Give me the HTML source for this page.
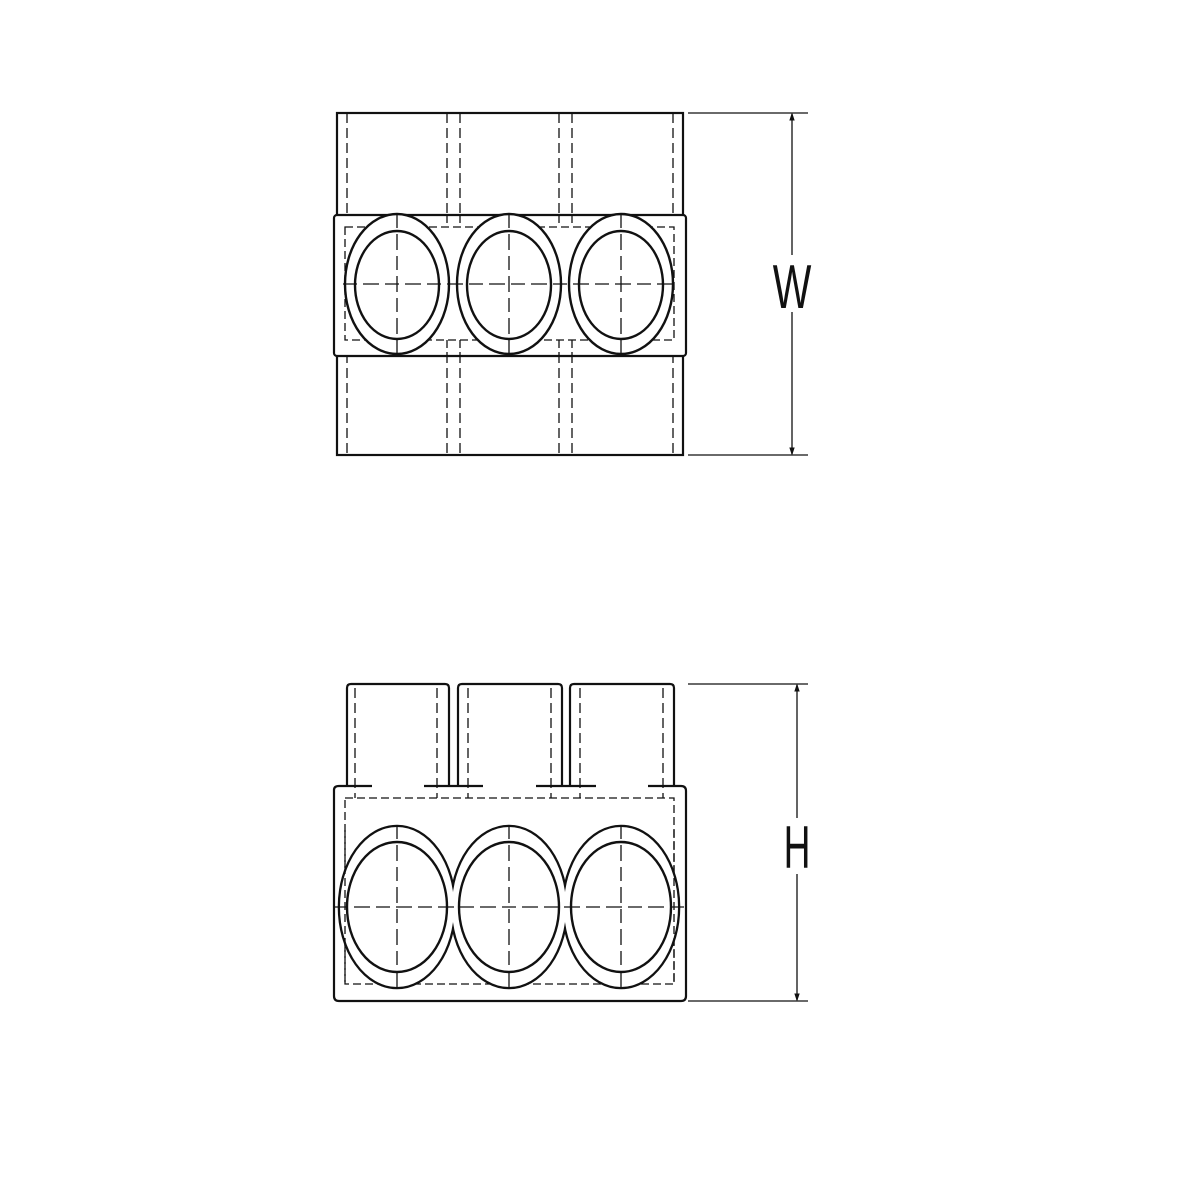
<!DOCTYPE html>
<html><head><meta charset="utf-8"><style>html,body{margin:0;padding:0;background:#fff}svg{display:block}</style></head>
<body>
<svg width="1200" height="1200" viewBox="0 0 1200 1200" xmlns="http://www.w3.org/2000/svg">
<g fill="none" stroke="#111" stroke-width="2.2">
<!-- TOP VIEW -->
<rect x="337" y="113" width="346" height="342"/>
<g stroke-dasharray="10,5" stroke-width="1.3">
<line x1="347" y1="113" x2="347" y2="455"/><line x1="447" y1="113" x2="447" y2="455"/>
<line x1="460" y1="113" x2="460" y2="455"/><line x1="559" y1="113" x2="559" y2="455"/>
<line x1="572" y1="113" x2="572" y2="455"/><line x1="673" y1="113" x2="673" y2="455"/>
</g>
<rect x="334" y="215" width="352" height="141" rx="3" fill="#fff"/>
<rect x="345" y="227" width="329" height="113" stroke-dasharray="8,4" stroke-width="1.3"/>
<g stroke-width="2.4">
<ellipse cx="397" cy="284" rx="52" ry="70" fill="#fff"/><ellipse cx="397" cy="285" rx="42" ry="54"/>
<ellipse cx="509" cy="284" rx="52" ry="70" fill="#fff"/><ellipse cx="509" cy="285" rx="42" ry="54"/>
<ellipse cx="621" cy="284" rx="52" ry="70" fill="#fff"/><ellipse cx="621" cy="285" rx="42" ry="54"/>
</g>
<g stroke-width="1.3" stroke-dasharray="14,6,16,6">
<line x1="343" y1="284" x2="676" y2="284"/>
<line x1="397" y1="214" x2="397" y2="356"/><line x1="509" y1="214" x2="509" y2="356"/><line x1="621" y1="214" x2="621" y2="356"/>
</g>
<g stroke-width="1.3" stroke-dasharray="8,4">
<line x1="447" y1="215" x2="447" y2="227"/><line x1="460" y1="215" x2="460" y2="227"/><line x1="559" y1="215" x2="559" y2="227"/><line x1="572" y1="215" x2="572" y2="227"/>
<line x1="447" y1="340" x2="447" y2="356"/><line x1="460" y1="340" x2="460" y2="356"/><line x1="559" y1="340" x2="559" y2="356"/><line x1="572" y1="340" x2="572" y2="356"/>
</g>
<!-- dimension W -->
<g stroke-width="1.3">
<line x1="688" y1="113" x2="808" y2="113"/><line x1="688" y1="455" x2="808" y2="455"/>
<line x1="792" y1="114" x2="792" y2="255"/><line x1="792" y1="312" x2="792" y2="454"/>
</g>
<path d="M790 120 L792 114 L794 120 Z M790 448 L792 454 L794 448 Z" fill="#111" stroke-width="1"/>

<!-- BOTTOM VIEW -->
<path d="M347 786 L347 688 Q347 684 351 684 L445 684 Q449 684 449 688 L449 786" />
<path d="M458 786 L458 688 Q458 684 462 684 L558 684 Q562 684 562 688 L562 786" />
<path d="M570 786 L570 688 Q570 684 574 684 L670 684 Q674 684 674 688 L674 786" />
<path d="M334 790 L334 996 Q334 1001 339 1001 L681 1001 Q686 1001 686 996 L686 791 Q686 786 681 786"/>
<path d="M334 790 Q334 786 339 786"/>
<g stroke-width="2.2">
<line x1="339" y1="786" x2="372" y2="786"/><line x1="424" y1="786" x2="483" y2="786"/>
<line x1="536" y1="786" x2="596" y2="786"/><line x1="648" y1="786" x2="681" y2="786"/>
</g>
<g stroke-dasharray="10,5" stroke-width="1.3">
<line x1="355" y1="688" x2="355" y2="798"/><line x1="437" y1="688" x2="437" y2="798"/>
<line x1="468" y1="688" x2="468" y2="798"/><line x1="551" y1="688" x2="551" y2="798"/>
<line x1="580" y1="688" x2="580" y2="798"/><line x1="663" y1="688" x2="663" y2="798"/>
</g>
<rect x="345" y="798" width="329" height="186" stroke-dasharray="8,4" stroke-width="1.3"/>
<g stroke-width="4.6">
<ellipse cx="397" cy="907" rx="57" ry="80"/><ellipse cx="509" cy="907" rx="57" ry="80"/><ellipse cx="621" cy="907" rx="57" ry="80"/>
</g>
<g fill="#fff" stroke="none">
<ellipse cx="397" cy="907" rx="57" ry="80"/><ellipse cx="509" cy="907" rx="57" ry="80"/><ellipse cx="621" cy="907" rx="57" ry="80"/>
</g>
<g stroke-width="2.4">
<ellipse cx="397" cy="907" rx="50" ry="65"/><ellipse cx="509" cy="907" rx="50" ry="65"/><ellipse cx="621" cy="907" rx="50" ry="65"/>
</g>
<g stroke-width="1.3" stroke-dasharray="8,4">
<line x1="345" y1="830" x2="345" y2="984"/><line x1="674" y1="830" x2="674" y2="984"/>
</g>
<g stroke-width="1.3" stroke-dasharray="14,6,16,6">
<line x1="334" y1="907" x2="686" y2="907"/>
<line x1="397" y1="825" x2="397" y2="990"/><line x1="509" y1="825" x2="509" y2="990"/><line x1="621" y1="825" x2="621" y2="990"/>
</g>
<!-- dimension H -->
<g stroke-width="1.3">
<line x1="688" y1="684" x2="808" y2="684"/><line x1="688" y1="1001" x2="808" y2="1001"/>
<line x1="797" y1="685" x2="797" y2="818"/><line x1="797" y1="874" x2="797" y2="1000"/>
</g>
<path d="M795 691 L797 685 L799 691 Z M795 994 L797 1000 L799 994 Z" fill="#111" stroke-width="1"/>
</g>
<text x="0" y="0" font-family="Liberation Sans, sans-serif" font-size="62" fill="#111" text-anchor="middle" transform="translate(792,308) scale(0.66,1)">W</text>
<text x="0" y="0" font-family="Liberation Sans, sans-serif" font-size="60" fill="#111" text-anchor="middle" transform="translate(797,868) scale(0.62,1)">H</text>
</svg>
</body></html>
